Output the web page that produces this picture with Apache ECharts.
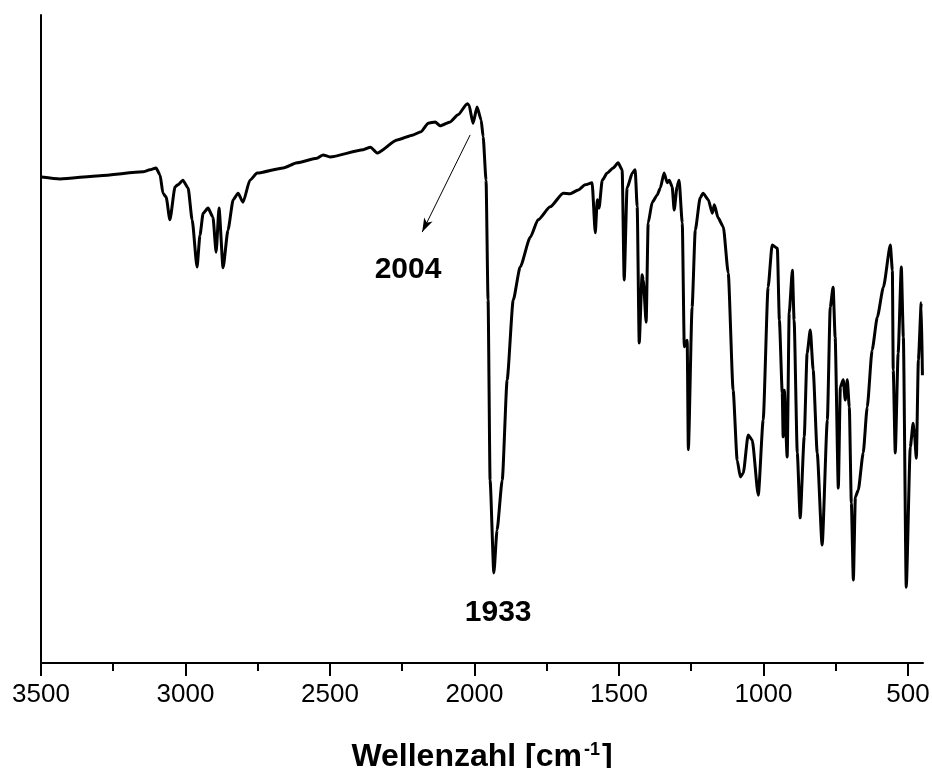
<!DOCTYPE html>
<html>
<head>
<meta charset="utf-8">
<title>IR Spektrum</title>
<script src="https://cdn.jsdelivr.net/npm/echarts@6/dist/echarts.min.js"></script>
<style>
  html, body { margin: 0; padding: 0; background: #fff; }
  #main { width: 932px; height: 768px; }
</style>
</head>
<body>
<div id="main"></div>
<script>
// Wellenzahl [cm-1]
var wellenzahl = [3498, 3434, 3296, 3147, 3123, 3102, 3088, 3078, 3067, 3054, 3036, 3026, 3009, 2991, 2977, 2960, 2950, 2939, 2922, 2905, 2894, 2884, 2870, 2853, 2835, 2818, 2801, 2777, 2752, 2662, 2614, 2545, 2524, 2500, 2385, 2360, 2337, 2268, 2212, 2185, 2160, 2136, 2119, 2084, 2057, 2025, 2019, 2005, 1991, 1977, 1970, 1960, 1953, 1946, 1933, 1922, 1904, 1887, 1866, 1842, 1807, 1780, 1738, 1693, 1669, 1641, 1617, 1593, 1582, 1575, 1569, 1558, 1541, 1520, 1503, 1489, 1482, 1472, 1454, 1444, 1437, 1430, 1420, 1416, 1406, 1399, 1385, 1368, 1357, 1344, 1333, 1326, 1316, 1309, 1299, 1292, 1281, 1274, 1264, 1260, 1247, 1236, 1219, 1209, 1191, 1177, 1170, 1157, 1139, 1122, 1105, 1091, 1080, 1070, 1053, 1039, 1018, 1001, 984, 970, 952, 945, 935, 932, 928, 918, 911, 900, 894, 883, 873, 859, 849, 838, 828, 814, 797, 779, 769, 759, 752, 741, 734, 724, 717, 710, 703, 696, 689, 682, 672, 655, 641, 624, 606, 585, 561, 554, 551, 544, 534, 523, 516, 506, 492, 482, 478, 471, 464, 454, 450];
// Transmission (relativ, %)
var transmission = [75.0, 74.7, 75.2, 75.8, 76.1, 76.4, 75.3, 72.5, 71.9, 68.4, 73.5, 73.8, 74.5, 73.3, 68.4, 61.1, 66.0, 69.4, 70.2, 68.8, 63.4, 70.2, 61.0, 66.8, 71.5, 72.5, 71.1, 74.5, 75.6, 76.4, 77.2, 77.9, 78.4, 78.1, 79.2, 79.6, 78.7, 80.7, 81.5, 82.0, 83.3, 83.5, 82.9, 83.5, 84.6, 86.3, 86.1, 83.3, 85.8, 83.8, 81.2, 74.5, 56.0, 28.2, 13.9, 20.5, 28.2, 43.7, 56.0, 61.1, 65.7, 68.4, 70.4, 72.5, 72.4, 73.0, 73.8, 74.1, 66.4, 71.5, 70.2, 74.5, 75.6, 76.4, 77.2, 76.1, 59.1, 73.3, 75.6, 76.1, 70.4, 49.4, 59.9, 59.1, 52.6, 67.9, 71.1, 72.2, 73.3, 75.6, 74.1, 74.5, 73.5, 69.9, 73.5, 74.5, 67.9, 48.8, 49.8, 32.9, 54.9, 66.8, 71.8, 72.5, 71.5, 69.4, 70.7, 68.7, 67.3, 60.2, 42.1, 31.3, 28.7, 29.3, 35.2, 34.4, 25.9, 37.5, 58.0, 64.5, 64.0, 52.9, 41.7, 34.9, 42.1, 31.8, 54.0, 60.6, 52.9, 32.4, 22.4, 34.9, 47.8, 51.4, 45.2, 32.4, 18.2, 37.5, 54.9, 58.0, 50.3, 27.0, 42.6, 43.7, 40.6, 43.7, 39.5, 24.7, 12.8, 25.6, 26.7, 32.4, 39.5, 48.3, 53.4, 58.0, 64.5, 60.6, 45.2, 32.4, 47.8, 61.1, 50.3, 11.7, 33.3, 37.0, 35.5, 31.6, 46.8, 55.6, 44.4];

var hauptTicks = [3500, 3000, 2500, 2000, 1500, 1000, 500];
var nebenTicks = [3250, 2750, 2250, 1750, 1250, 750];

// Beschriftungen der Banden
var bandeText = ['2004', '1933'];
var bandeLage = [[2230, 60.7], [1918, 7.7]];
var pfeil = [[2015, 81.5], [2181, 66.5]];

var schrift = 'Arial, "Liberation Sans", sans-serif';

var daten = [];
for (var i = 0; i < wellenzahl.length; i++) {
    daten.push([wellenzahl[i], transmission[i]]);
}

var myChart = echarts.init(document.getElementById('main'));

var option = {
    backgroundColor: '#ffffff',
    animation: false,
    grid: { left: 41, right: 9, top: 15, bottom: 105, outerBoundsMode: 'none', containLabel: false },
    xAxis: [
        {
            type: 'value',
            inverse: true,
            min: 448,
            max: 3500,
            splitLine: { show: false },
            axisLine: { show: true, onZero: false, lineStyle: { color: '#000', width: 2 } },
            axisTick: { show: true, inside: false, length: 13, lineStyle: { color: '#000', width: 2 }, customValues: hauptTicks },
            axisLabel: {
                show: true, customValues: hauptTicks, color: '#000', fontSize: 26, fontFamily: schrift, margin: 19,
                formatter: function (v) { return String(v); }
            },
            name: '{b|Wellenzahl [cm}{s|-1}{b|]}',
            nameLocation: 'middle',
            nameGap: 78,
            nameTextStyle: {
                rich: {
                    b: { fontSize: 32, fontWeight: 'bold', fontFamily: schrift, color: '#000' },
                    s: { fontSize: 18, fontWeight: 'bold', fontFamily: schrift, color: '#000', verticalAlign: 'top', padding: [0, 2, 0, 2] }
                }
            }
        },
        {
            type: 'value',
            inverse: true,
            min: 448,
            max: 3500,
            position: 'bottom',
            splitLine: { show: false },
            axisLine: { show: false, onZero: false },
            axisTick: { show: true, inside: false, length: 8, lineStyle: { color: '#000', width: 2 }, customValues: nebenTicks },
            axisLabel: { show: false }
        }
    ],
    yAxis: {
        type: 'value',
        min: 0,
        max: 100,
        splitLine: { show: false },
        axisLine: { show: true, lineStyle: { color: '#000', width: 2 } },
        axisTick: { show: false },
        axisLabel: { show: false }
    },
    series: [
        {
            type: 'line',
            data: daten,
            showSymbol: false,
            smooth: 0.2,
            smoothMonotone: 'x',
            lineStyle: { color: '#000', width: 3 },
            markLine: {
                silent: true,
                symbol: ['none', 'arrow'],
                symbolSize: [7, 14],
                label: { show: false },
                lineStyle: { color: '#000', width: 1, type: 'solid' },
                data: [[{ coord: pfeil[0] }, { coord: pfeil[1] }]]
            },
            markPoint: {
                silent: true,
                symbol: 'circle',
                symbolSize: 0,
                label: {
                    show: true,
                    position: 'inside',
                    color: '#000',
                    fontSize: 30,
                    fontWeight: 'bold',
                    fontFamily: schrift,
                    formatter: function (p) { return p.name; }
                },
                data: bandeText.map(function (t, k) {
                    return { name: t, coord: bandeLage[k] };
                })
            }
        }
    ]
};

myChart.setOption(option);
</script>
</body>
</html>
